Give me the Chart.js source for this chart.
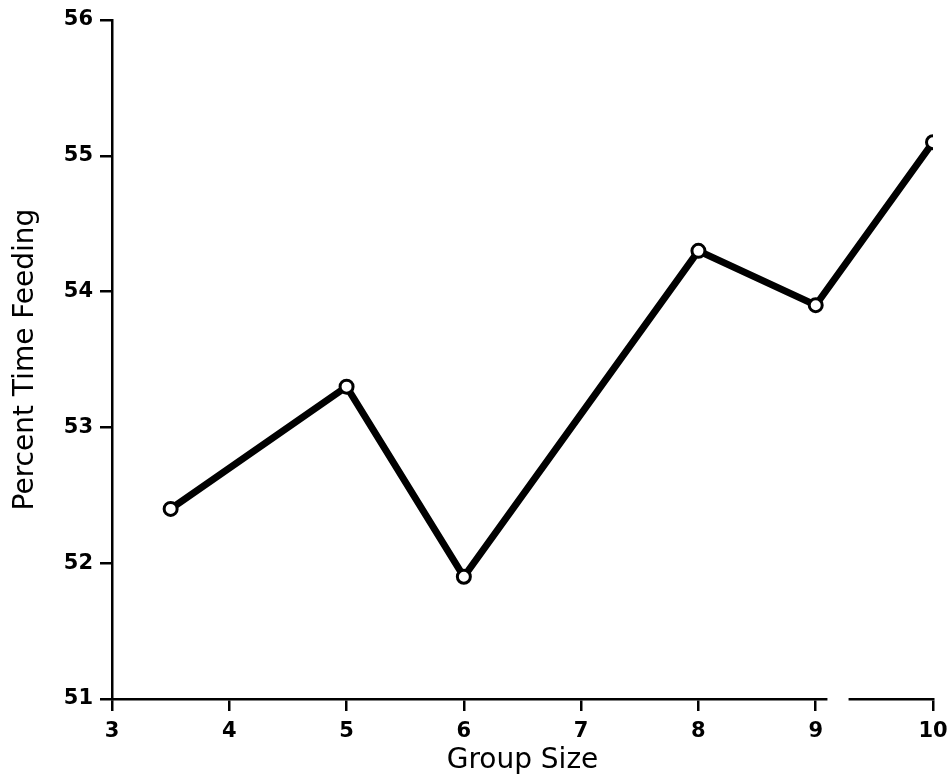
<!DOCTYPE html>
<html>
<head>
<meta charset="utf-8">
<script src="https://cdn.jsdelivr.net/npm/chart.js@4/dist/chart.umd.min.js"></script>
<style>
  html, body { margin: 0; padding: 0; background: #fff; }
  #wrap { width: 947px; height: 778px; position: relative; }
</style>
</head>
<body>
<div id="wrap"><canvas id="c" width="947" height="778"></canvas></div>
<script>
const groupSize = [3.5, 5, 6, 8, 9, 10];
const percentTimeFeeding = [52.4, 53.3, 51.9, 54.3, 53.9, 55.1];
const xTickLabels = [3, 4, 5, 6, 7, 8, 9, 10];
const yTickLabels = [51, 52, 53, 54, 55, 56];
const xTitle = 'Group Size';
const yTitle = 'Percent Time Feeding';

const points = groupSize.map((x, i) => ({ x: x, y: percentTimeFeeding[i] }));

const axisBreak = {
  id: 'axisBreak',
  afterDraw(chart) {
    const xs = chart.scales.x;
    const ctx = chart.ctx;
    const a = xs.getPixelForValue(9.1);
    const b = xs.getPixelForValue(9.28);
    ctx.save();
    ctx.fillStyle = '#fff';
    ctx.fillRect(a, xs.top - 4, b - a, 8);
    ctx.restore();
  }
};

new Chart(document.getElementById('c'), {
  type: 'line',
  data: {
    datasets: [{
      data: points,
      borderColor: '#000',
      borderWidth: 7,
      pointRadius: 6.5,
      pointBorderWidth: 3,
      pointBackgroundColor: '#fff',
      pointBorderColor: '#000',
      tension: 0,
      fill: false
    }]
  },
  options: {
    responsive: false,
    animation: false,
    layout: { padding: { left: 0, top: 20, right: 14, bottom: 0 } },
    plugins: { legend: { display: false }, tooltip: { enabled: false } },
    scales: {
      x: {
        type: 'linear',
        min: xTickLabels[0],
        max: xTickLabels[xTickLabels.length - 1],
        afterBuildTicks(s) { s.ticks = xTickLabels.map(v => ({ value: v })); },
        afterFit(s) { s.height = 79; s.paddingLeft = 0; s.paddingRight = 0; },
        grid: { drawOnChartArea: false, drawTicks: true, tickLength: 12, color: '#000', lineWidth: 2.5 },
        border: { display: true, color: '#000', width: 2.5 },
        ticks: { color: '#000', padding: 8, font: { family: 'DejaVu Sans', size: 21, weight: 'bold' }, maxRotation: 0 },
        title: { display: true, text: xTitle, color: '#000', font: { family: 'DejaVu Sans', size: 28 }, padding: { top: 0, bottom: 0 } }
      },
      y: {
        type: 'linear',
        min: yTickLabels[0],
        max: yTickLabels[yTickLabels.length - 1],
        afterBuildTicks(s) { s.ticks = yTickLabels.map(v => ({ value: v })); },
        afterFit(s) { s.width = 112; s.paddingTop = 0; s.paddingBottom = 0; },
        grid: { drawOnChartArea: false, drawTicks: true, tickLength: 12, color: '#000', lineWidth: 2.5 },
        border: { display: true, color: '#000', width: 2.5 },
        ticks: { color: '#000', padding: 7, font: { family: 'DejaVu Sans', size: 21, weight: 'bold' } },
        title: { display: true, text: yTitle, color: '#000', font: { family: 'DejaVu Sans', size: 28 }, padding: { top: 9, bottom: 0 } }
      }
    }
  },
  plugins: [axisBreak]
});
</script>
</body>
</html>
